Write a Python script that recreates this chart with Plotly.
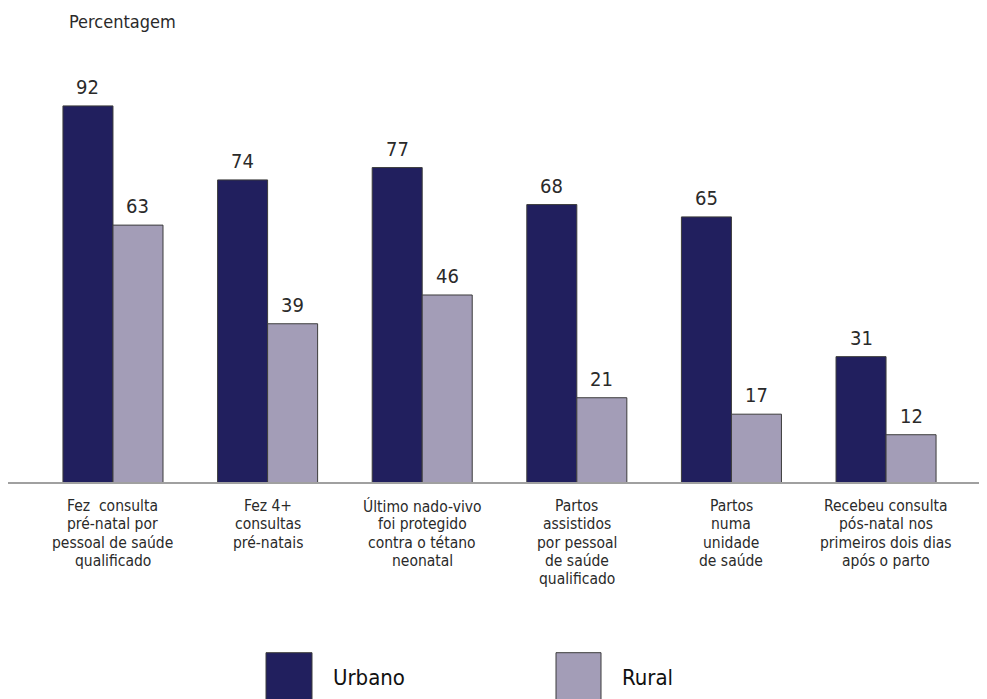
import plotly.graph_objects as go

categories = [
    ["Fez\u00a0 consulta", "pré-natal por", "pessoal de saúde", "qualificado"],
    ["Fez 4+", "consultas", "pré-natais"],
    ["Último nado-vivo", "foi protegido", "contra o tétano", "neonatal"],
    ["Partos", "assistidos", "por pessoal", "de saúde", "qualificado"],
    ["Partos", "numa", "unidade", "de saúde"],
    ["Recebeu consulta", "pós-natal nos", "primeiros dois dias", "após o parto"],
]
urbano = [92, 74, 77, 68, 65, 31]
rural = [63, 39, 46, 21, 17, 12]
series_names = ["Urbano", "Rural"]
y_title = "Percentagem"

FONT = "DejaVu Sans Condensed, Liberation Sans Narrow, Arial Narrow, sans-serif"
TXT = "#2a2a2a"
C_URB = "#211f5e"
C_RUR = "#a39db7"
EDGE = "#3c3c3c"

# page has an 8px body margin: figure occupies screen px 8..987 / 8..699
OFF = 8
W, H = 987 - OFF, 699 - OFF
ML, MR, MT, MB = 0, 0, 62, 217
PW, PH = W - ML - MR, H - MT - MB
BOTTOM = OFF + MT + PH  # screen y of plot bottom (482)


def sx(px):  # screen x -> paper x
    return (px - OFF - ML) / PW


def sy(py):  # screen y -> paper y
    return (BOTTOM - py) / PH


x_idx = list(range(len(categories)))

fig = go.Figure()
for name, vals, col in [(series_names[0], urbano, C_URB), (series_names[1], rural, C_RUR)]:
    fig.add_trace(go.Bar(
        x=x_idx, y=vals, name=name,
        marker=dict(color=col, line=dict(color=EDGE, width=1)),
        hoverinfo="x+y+name",
    ))

ann = []
# value labels
for vals, sh in [(urbano, -25), (rural, 25)]:
    for i, v in enumerate(vals):
        ann.append(dict(x=i, y=v, xref="x", yref="y", text=str(v), showarrow=False,
                        xshift=sh, yshift=5, yanchor="bottom", xanchor="center",
                        font=dict(family=FONT, size=20, color=TXT)))
# category labels, line by line (tight leading as in the original)
LINE = 18.35
for i, lines in enumerate(categories):
    for j, line in enumerate(lines):
        ann.append(dict(x=i, y=0.5, xref="x", yref="y", text=line, showarrow=False,
                        borderpad=0, yshift=-14 - LINE * j, yanchor="top", xanchor="center",
                        font=dict(family=FONT, size=15.5, color=TXT)))
# y title
ann.append(dict(x=sx(67), y=sy(21.5), xref="paper", yref="paper",
                text=y_title, showarrow=False, xanchor="left", yanchor="middle",
                font=dict(family=FONT, size=18, color=TXT)))

# legend
shapes = []
leg = [(series_names[0], C_URB, 266, 312, 331), (series_names[1], C_RUR, 556, 601, 620)]
for name, col, x0, x1, tx in leg:
    shapes.append(dict(type="rect", xref="paper", yref="paper",
                       x0=sx(x0), x1=sx(x1), y0=sy(705), y1=sy(652.7),
                       fillcolor=col, line=dict(color=EDGE, width=1)))
    ann.append(dict(x=sx(tx), y=sy(677.5), xref="paper", yref="paper",
                    text=name, showarrow=False, xanchor="left", yanchor="middle",
                    font=dict(family=FONT, size=22, color="#111111")))

fig.update_layout(
    width=W, height=H,
    margin=dict(l=ML, r=MR, t=MT, b=MB, pad=0),
    paper_bgcolor="white", plot_bgcolor="white",
    barmode="group", bargap=0.353, bargroupgap=0,
    showlegend=False,
    xaxis=dict(range=[-0.679, 5.653], showticklabels=False, ticks="", showgrid=False,
               zeroline=False, showline=True, linecolor="#a0a0a0", linewidth=1.5, fixedrange=True),
    yaxis=dict(range=[0.5, 100.74], showticklabels=False, ticks="", showgrid=False,
               zeroline=False, showline=False, fixedrange=True),
    annotations=ann, shapes=shapes,
    font=dict(family=FONT, color=TXT),
)

fig.write_html("out.html")
